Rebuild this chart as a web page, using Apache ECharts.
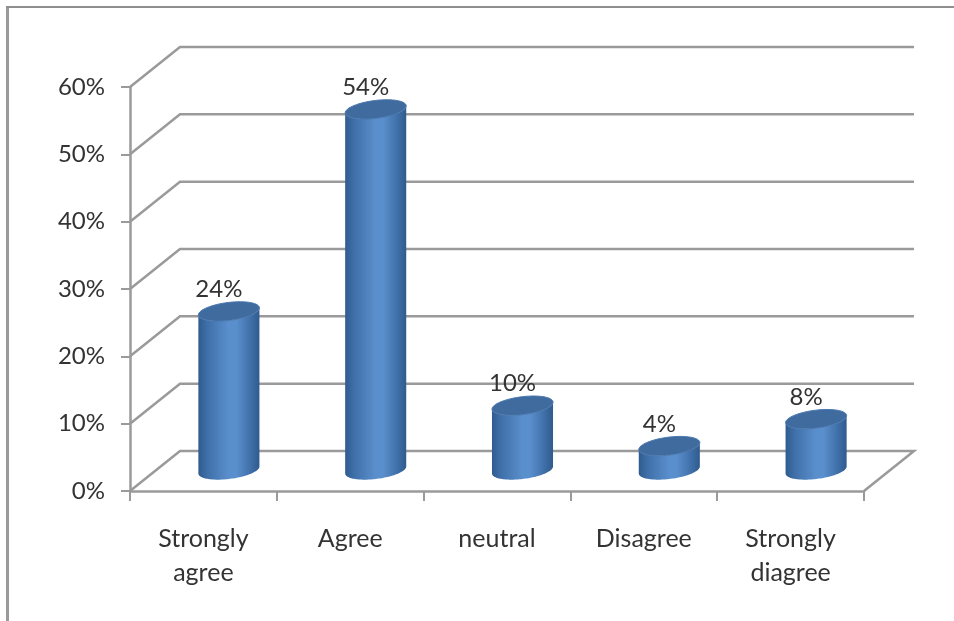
<!DOCTYPE html>
<html><head><meta charset="utf-8">
<style>html,body{margin:0;padding:0;background:#fff}#c{width:954px;height:621px}</style>
<script src="https://cdn.jsdelivr.net/npm/echarts@6/dist/echarts.min.js"></script>
</head><body><div id="c"></div>
<script>
const categories = ['Strongly agree', 'Agree', 'neutral', 'Disagree', 'Strongly diagree'];
const values = [24, 54, 10, 4, 8];
const yTicks = [0, 10, 20, 30, 40, 50, 60];

const DEPTH_X = 50, DEPTH_Y = 40;
const LINE = '#9a9a9a';
const FONT = 'Lato';
const TEXT = '#333333';

function renderGrid(params, api) {
  const v = api.value(0);
  const cs = params.coordSys;
  const y = api.coord([0, v])[1];
  const x0 = cs.x, x1 = cs.x + cs.width;
  const style = { fill: null, stroke: LINE, lineWidth: 2.5 };
  const points = v === 0
    ? [[x0, y], [x0 + DEPTH_X, y - DEPTH_Y], [x1 + DEPTH_X, y - DEPTH_Y], [x1, y]]
    : [[x0, y], [x0 + DEPTH_X, y - DEPTH_Y], [x1 + DEPTH_X, y - DEPTH_Y]];
  return { type: 'polyline', shape: { points }, style };
}

function ellipsePts(cx, cy, a, b, s, t0, t1) {
  const pts = [];
  const n = 64;
  for (let i = 0; i <= n; i++) {
    const t = t0 + (t1 - t0) * i / n;
    pts.push([cx + a * Math.cos(t), cy + b * Math.sin(t) - s * Math.cos(t)]);
  }
  return pts;
}

function renderCyl(params, api) {
  const idx = api.value(0);
  const v = api.value(1);
  const base = api.coord([idx, 0]);
  const top = api.coord([idx, v]);
  const band = api.size([1, 0])[0];
  const a = band * 0.208, b = 9, s = 3.5;
  const cx = base[0] + 25.5;
  const off = 21;
  const yb = base[1] - off, yt = top[1] - off + 3;
  const lower = ellipsePts(cx, yb, a, b, s, 0, Math.PI);
  const upper = ellipsePts(cx, yt, a, b, s, Math.PI, 0);
  const grad = new echarts.graphic.LinearGradient(0, 0, 1, 0, [
    { offset: 0, color: '#2f5b8e' },
    { offset: 0.14, color: '#3f6fa8' },
    { offset: 0.5, color: '#5a8fcd' },
    { offset: 0.62, color: '#5a8fcd' },
    { offset: 0.86, color: '#3f6fa8' },
    { offset: 1, color: '#2f5b8e' }
  ]);
  const capPts = ellipsePts(cx, yt, a, b, s, 0, Math.PI * 2);
  return {
    type: 'group',
    children: [
      { type: 'polygon', shape: { points: upper.concat(lower) }, style: { fill: grad } },
      { type: 'polygon', shape: { points: capPts }, style: { fill: '#3f6b9f', stroke: '#4a78ae', lineWidth: 1 } },
      { type: 'text', style: {
          text: v + '%', x: cx - 10, y: yt - 22, align: 'center', verticalAlign: 'middle',
          font: '24px ' + FONT, fill: TEXT } }
    ]
  };
}

const chart = echarts.init(document.getElementById('c'), null, { renderer: 'canvas' });
chart.setOption({
  animation: false,
  backgroundColor: '#fff',
  grid: { left: 130, right: 90, top: 87, bottom: 130 },
  xAxis: {
    type: 'category', data: categories,
    axisLine: { lineStyle: { color: LINE, width: 2.5 } },
    axisTick: { show: true, alignWithLabel: false, length: 10, lineStyle: { color: LINE, width: 2 } },
    axisLabel: {
      margin: 31, fontFamily: FONT, fontSize: 25, color: TEXT, lineHeight: 34,
      interval: 0, formatter: s => s.replace(' ', '\n')
    },
    splitLine: { show: false }
  },
  yAxis: {
    type: 'value', min: 0, max: 60, interval: 10,
    axisLine: { show: true, lineStyle: { color: LINE, width: 2.5 } },
    axisTick: { show: true, length: 9, lineStyle: { color: LINE, width: 2 } },
    axisLabel: { margin: 25, fontFamily: FONT, fontSize: 24, color: TEXT, formatter: '{value}%' },
    splitLine: { show: false }
  },
  graphic: [
    { type: 'line', silent: true, z: 100, shape: { x1: 7.5, y1: 6, x2: 7.5, y2: 621 },
      style: { stroke: '#9a9a9a', lineWidth: 3 } },
    { type: 'line', silent: true, z: 100, shape: { x1: 6, y1: 7, x2: 954, y2: 7 },
      style: { stroke: '#8f8f8f', lineWidth: 2 } }
  ],
  series: [
    { type: 'custom', coordinateSystem: 'cartesian2d', renderItem: renderGrid, silent: true,
      data: yTicks.map(v => [v]), encode: { y: 0 }, z: 1 },
    { type: 'custom', coordinateSystem: 'cartesian2d', renderItem: renderCyl, silent: true,
      data: values.map((v, i) => [i, v]), encode: { x: 0, y: 1 }, z: 5 }
  ]
});
</script></body></html>
